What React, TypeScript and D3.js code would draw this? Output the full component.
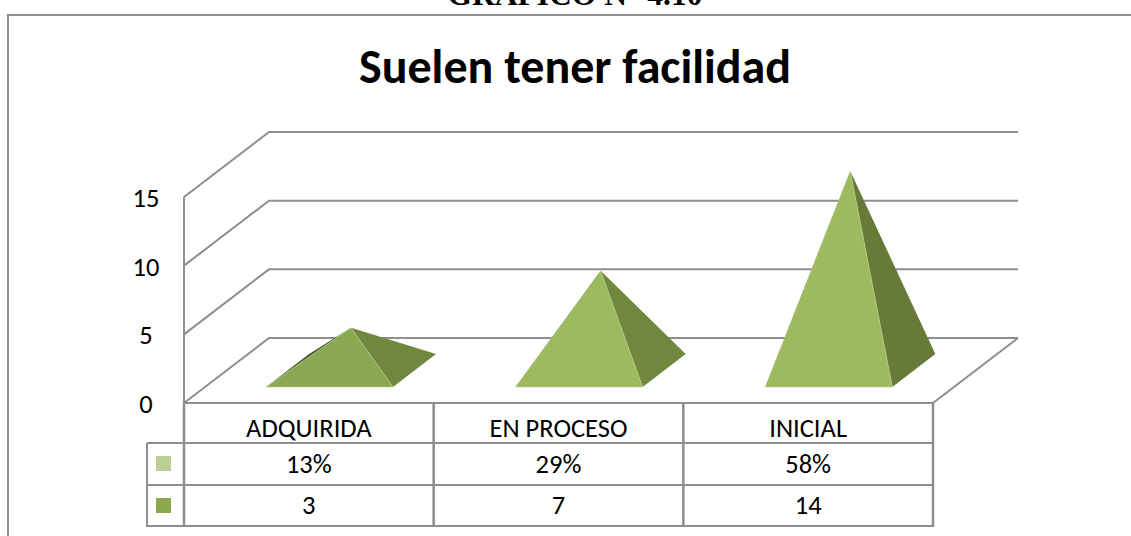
import React from 'react'
import * as d3 from 'd3'

const categories = ['ADQUIRIDA', 'EN PROCESO', 'INICIAL']
const percents = ['13%', '29%', '58%']
const counts = [3, 7, 14]
const yTicks = [0, 5, 10, 15]
const legendColors = ['#b9d096', '#8ba84f']
// lit face and shaded face per pyramid
const frontColors = ['#8aa851', '#9dba5e', '#9dba5e']
const sideColors = ['#70873e', '#70873e', '#677a38']

const W = 1131
const H = 536
const font = 'Carlito, Calibri, "Open Sans", "Noto Sans", sans-serif'
const gridColor = '#8e8e8e'

// 3d projection of the walls
const depthX = 85
const depthY = -65
const baseDepthX = 43
const baseDepthY = -33

const App = () => {
  const x = d3.scaleBand<string>().domain(categories).range([184, 933])
  const y = d3.scaleLinear().domain([0, 15]).range([403, 197])
  // pyramid tips are measured from the centre of their base
  const tip = d3.scaleLinear().domain([0, 15]).range([370.5, 157])
  const line = d3.line()
  const rowLines = [443, 485, 526]
  const colLines = [184, ...categories.map(c => (x(c) as number) + x.bandwidth())]

  return (
    <svg width={W} height={H} style={{position: 'absolute', left: 0, top: 0, background: '#fff'}}>
      <text x={575} y={5} textAnchor="middle" fontFamily="'Liberation Serif', serif" fontWeight="bold" fontSize={31.5}>
        GRAFICO N° 4.10
      </text>
      <rect x={8} y={15} width={1200} height={600} fill="none" stroke={gridColor} strokeWidth={2} />
      <text x={575} y={83} textAnchor="middle" fontFamily={font} fontWeight="bold" fontSize={48}>
        Suelen tener facilidad
      </text>

      {yTicks.map(t => (
        <g key={t}>
          <path
            d={line([[184, y(t)], [184 + depthX, y(t) + depthY], [1018, y(t) + depthY]]) as string}
            fill="none" stroke={gridColor} strokeWidth={2}
          />
          <text x={146} y={y(t) + 10} textAnchor="middle" fontFamily={font} fontSize={26.5}>{t}</text>
        </g>
      ))}
      <path d={line([[184, y(15)], [184, y(0)], [933, y(0)], [933 + depthX, y(0) + depthY]]) as string}
        fill="none" stroke={gridColor} strokeWidth={2} />

      {categories.map((c, i) => {
        const left = (x(c) as number) + 82
        const right = left + 127
        const by = 387
        const apex: [number, number] = [(left + right) / 2 + baseDepthX / 2, tip(counts[i])]
        const bl: [number, number] = [left, by]
        const br: [number, number] = [right, by]
        const back: [number, number] = [right + baseDepthX, by + baseDepthY]
        const backLeft: [number, number] = [left + baseDepthX, by + baseDepthY]
        return (
          <g key={c}>
            <path d={line([apex, bl, backLeft]) + 'Z'} fill="#4f6030" />
            <path d={line([apex, br, back]) + 'Z'} fill={sideColors[i]} />
            <path d={line([apex, bl, br]) + 'Z'} fill={frontColors[i]} stroke="#b9d096" strokeWidth={0.6} />
          </g>
        )
      })}

      {/* data table */}
      {rowLines.map(ry => (
        <line key={ry} x1={147} x2={933} y1={ry} y2={ry} stroke={gridColor} strokeWidth={2} />
      ))}
      <line x1={147} x2={147} y1={443} y2={527} stroke={gridColor} strokeWidth={2} />
      {colLines.map(cx => (
        <line key={cx} x1={cx} x2={cx} y1={403} y2={527} stroke={gridColor} strokeWidth={2.5} />
      ))}
      {categories.map((c, i) => {
        const cx = (x(c) as number) + x.bandwidth() / 2
        return (
          <g key={c} fontFamily={font} fontSize={26.5} textAnchor="middle">
            <text x={cx} y={437}>{c}</text>
            <text x={cx} y={473}>{percents[i]}</text>
            <text x={cx} y={514}>{counts[i]}</text>
          </g>
        )
      })}
      {legendColors.map((col, i) => (
        <rect key={col} x={156} y={456 + i * 42} width={15} height={15} fill={col} />
      ))}
    </svg>
  )
}

export default App
